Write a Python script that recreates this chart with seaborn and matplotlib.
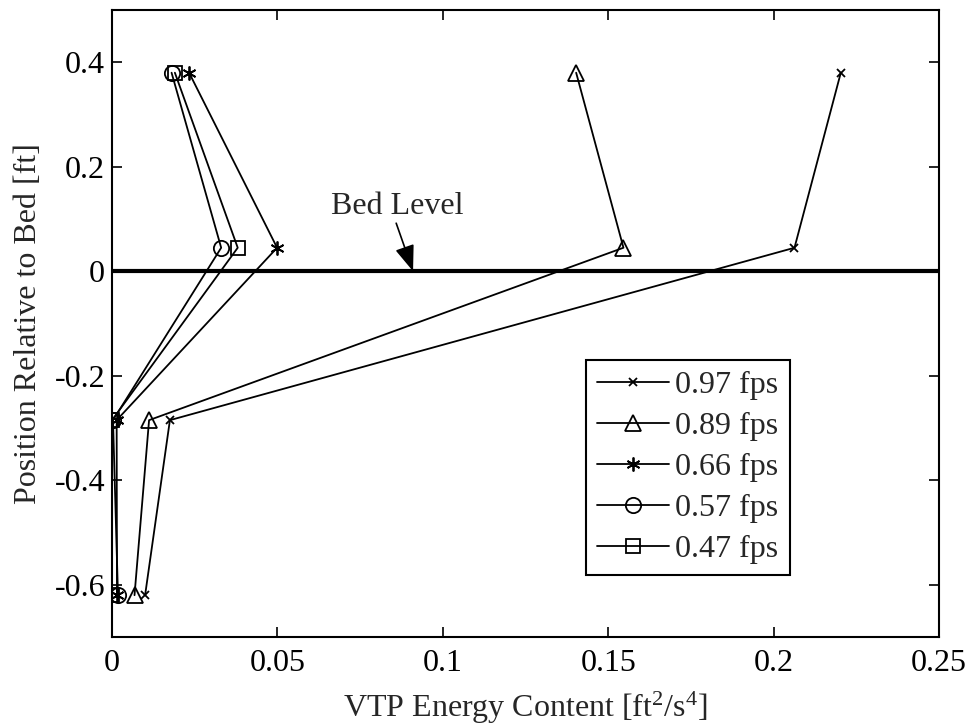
import matplotlib
matplotlib.use("Agg")
import matplotlib.pyplot as plt
import seaborn as sns
import pandas as pd

# Vertical positions of the probes relative to the bed [ft]
position = [0.38, 0.045, -0.285, -0.62]

# VTP energy content at each probe for each flow speed [ft^2/s^4]
energy_097 = [0.2203, 0.2063, 0.0175, 0.0100]
energy_089 = [0.1403, 0.1546, 0.0112, 0.0068]
energy_066 = [0.0233, 0.0499, 0.0014, 0.0015]
energy_057 = [0.0180, 0.0330, 0.0003, 0.0018]
energy_047 = [0.0190, 0.0380, 0.0000, 0.0000]

speed_labels = ["0.97 fps", "0.89 fps", "0.66 fps", "0.57 fps", "0.47 fps"]
x_tick_values = [0, 0.05, 0.1, 0.15, 0.2, 0.25]
x_tick_labels = ["0", "0.05", "0.1", "0.15", "0.2", "0.25"]
y_tick_values = [-0.6, -0.4, -0.2, 0, 0.2, 0.4]
y_tick_labels = ["-0.6", "-0.4", "-0.2", "0", "0.2", "0.4"]

sns.set_theme(style="ticks")
plt.rcParams["font.family"] = ["Liberation Serif", "DejaVu Serif"]
plt.rcParams["mathtext.fontset"] = "custom"
plt.rcParams["mathtext.rm"] = "Liberation Serif"
plt.rcParams["axes.unicode_minus"] = False

FS = 23

fig = plt.figure(figsize=(9.69, 7.26), dpi=100)
ax = fig.add_axes([0.1156, 0.1226, 0.8535, 0.8636])

series = [energy_097, energy_089, energy_066, energy_057, energy_047]
markers = ["x", "^", (6, 2, 0), "o", "s"]
sizes = [6, 12, 10, 11, 10]

for vals, lab, mk, ms in zip(series, speed_labels, markers, sizes):
    df = pd.DataFrame({"energy": vals, "pos": position})
    sns.lineplot(data=df, x="energy", y="pos", sort=False, estimator=None,
                 color="black", linewidth=1.3, marker=mk, markersize=ms,
                 markerfacecolor="none", markeredgecolor="black",
                 markeredgewidth=1.3, label=lab, ax=ax)

# Bed level reference line
ax.axhline(0, color="black", linewidth=3, zorder=1)
ax.text(0.0862, 0.109, "Bed Level", ha="center", va="baseline", fontsize=FS)
ax.annotate("", xy=(0.091, 0.0), xytext=(0.0859, 0.092),
            arrowprops=dict(arrowstyle="-|>,head_length=0.8,head_width=0.3",
                            color="black", lw=1.2, shrinkA=0, shrinkB=0,
                            mutation_scale=20))

ax.set_xlim(0, 0.25)
ax.set_ylim(-0.7, 0.5)
ax.set_xticks(x_tick_values)
ax.set_xticklabels(x_tick_labels)
ax.set_yticks(y_tick_values)
ax.set_yticklabels(y_tick_labels)
ax.tick_params(axis="both", direction="in", length=7, width=1.2,
               labelsize=FS, top=True, right=True, colors="black")
ax.tick_params(axis="x", pad=9)
ax.tick_params(axis="y", pad=5)
for sp in ax.spines.values():
    sp.set_visible(True)
    sp.set_color("black")
    sp.set_linewidth(1.5)

ax.set_xlabel(r"VTP Energy Content [ft$\mathregular{^2}$/s$\mathregular{^4}$]",
              fontsize=FS, labelpad=8)
ax.set_ylabel("Position Relative to Bed [ft]", fontsize=FS, labelpad=8)

leg = ax.legend(loc="upper left", bbox_to_anchor=(0.573, 0.442),
                borderaxespad=0, fontsize=FS, frameon=True, fancybox=False,
                framealpha=1, edgecolor="black", handlelength=2.25,
                handletextpad=0.2, labelspacing=0.36, borderpad=0.35)
leg.get_frame().set_linewidth(1.5)

fig.savefig("out.png", dpi=100)
